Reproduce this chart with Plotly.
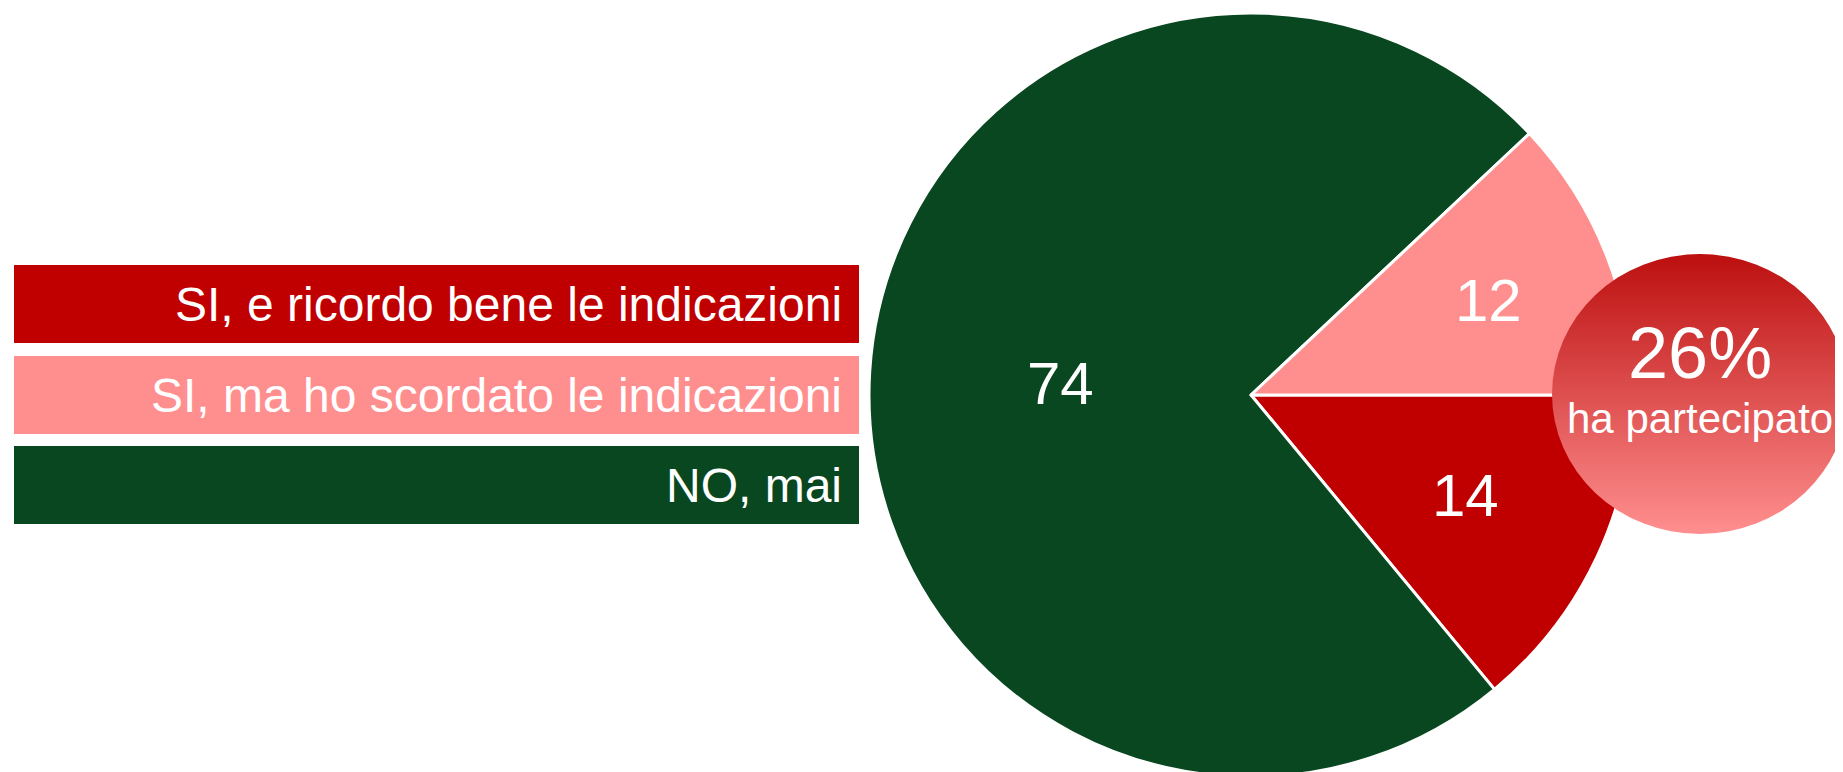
import math
import base64
import plotly.graph_objects as go

# survey answers (legend order, top to bottom)
labels = ["SI, e ricordo bene le indicazioni",
          "SI, ma ho scordato le indicazioni",
          "NO, mai"]
values = [14, 12, 74]
colors = ["#C00000", "#FF8F8F", "#08471F"]

# share that took part = the two "SI" answers
part_label = "ha partecipato"
part_value = values[0] + values[1]

W, H = 1843, 772
FONT = "Arial, Liberation Sans, sans-serif"

# pie drawn clockwise from 3 o'clock: red, green, pink
order = [0, 2, 1]
# where each value label sits, as a fraction of the radius
label_r = {0: 0.62, 1: 0.67, 2: 0.5}

# pie geometry in pixels (page origin at top-left of the plot)
cx, cy, rad = 1243, 387, 382

fig = go.Figure()
fig.add_trace(go.Pie(
    labels=[labels[i] for i in order],
    values=[values[i] for i in order],
    marker=dict(colors=[colors[i] for i in order], line=dict(color="white", width=3)),
    sort=False,
    direction="clockwise",
    rotation=90,
    textinfo="none",
    showlegend=False,
    hoverinfo="label+value",
    domain=dict(x=[(cx - rad) / W, (cx + rad) / W],
                y=[(H - cy - rad) / H, (H - cy + rad) / H]),
))

# value labels at the middle of each slice
total = sum(values)
start = 0.0
for i in order:
    span = 360.0 * values[i] / total
    mid = math.radians(-(start + span / 2))
    start += span
    px = cx + label_r[i] * rad * math.cos(mid)
    py = cy - label_r[i] * rad * math.sin(mid)
    fig.add_annotation(xref="paper", yref="paper", x=px / W, y=1 - py / H,
                       text=str(values[i]), showarrow=False,
                       xanchor="center", yanchor="middle",
                       font=dict(color="white", size=60, family=FONT))

# legend boxes on the left
box_top = [257, 348, 438]
box_h = 78
for lab, col, top in zip(labels, colors, box_top):
    fig.add_shape(type="rect", xref="paper", yref="paper",
                  x0=6 / W, x1=851 / W, y0=1 - (top + box_h) / H, y1=1 - top / H,
                  fillcolor=col, line=dict(width=0), layer="above")
    fig.add_annotation(xref="paper", yref="paper", x=836 / W, y=1 - (top + box_h / 2) / H,
                       text=lab, showarrow=False, xanchor="right", yanchor="middle",
                       font=dict(color="white", size=48, family=FONT))

# gradient bubble (svg image) with the participation share
svg = ('<svg xmlns="http://www.w3.org/2000/svg" width="296" height="280" viewBox="0 0 296 280" '
       'preserveAspectRatio="none"><defs><linearGradient id="g" x1="0" y1="0" x2="0" y2="1">'
       '<stop offset="0" stop-color="#BC0F0F"/><stop offset="1" stop-color="#FF8F8F"/>'
       '</linearGradient></defs><ellipse cx="148" cy="140" rx="148" ry="140" fill="url(#g)"/></svg>')
src = "data:image/svg+xml;base64," + base64.b64encode(svg.encode()).decode()
fig.add_layout_image(source=src, xref="paper", yref="paper",
                     x=1544 / W, y=1 - 246 / H, sizex=296 / W, sizey=280 / H,
                     xanchor="left", yanchor="top", sizing="stretch", layer="above")
fig.add_annotation(xref="paper", yref="paper", x=1692 / W, y=1 - 370 / H,
                   text=f"<span style='font-size:72px'>{part_value}%</span><br>{part_label}",
                   showarrow=False, xanchor="center", yanchor="middle",
                   font=dict(color="white", size=42, family=FONT))

fig.update_layout(width=W, height=H, margin=dict(l=0, r=0, t=0, b=0),
                  paper_bgcolor="white", plot_bgcolor="white")

fig.write_html("out.html")
